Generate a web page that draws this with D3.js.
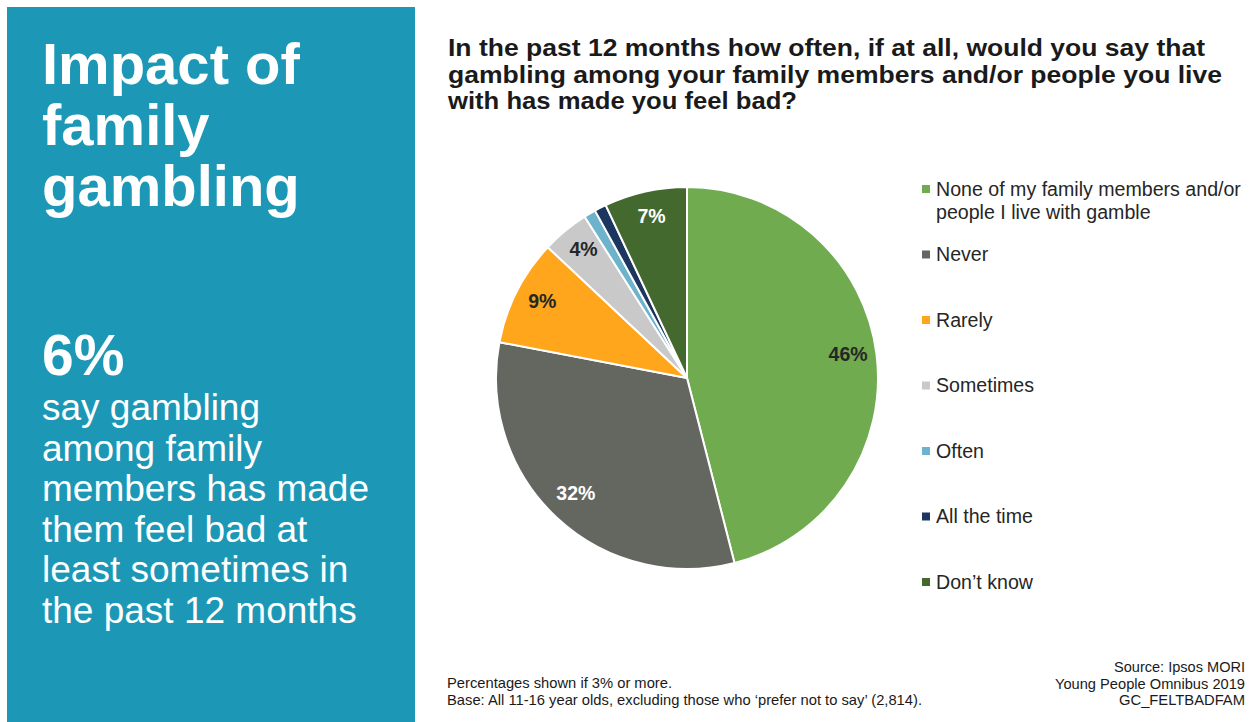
<!DOCTYPE html>
<html>
<head>
<meta charset="utf-8">
<script src="https://cdn.jsdelivr.net/npm/d3@7"></script>
<style>
  html, body { margin: 0; padding: 0; background: #fff; }
  svg { display: block; font-family: "Liberation Sans", Arial, sans-serif; }
</style>
</head>
<body>
<svg id="chart" width="1255" height="722"></svg>
<script>
const categories = [
  "None of my family members and/or people I live with gamble",
  "Never",
  "Rarely",
  "Sometimes",
  "Often",
  "All the time",
  "Don\u2019t know"
];
const legendLines = [
  ["None of my family members and/or", "people I live with gamble"],
  ["Never"], ["Rarely"], ["Sometimes"], ["Often"], ["All the time"], ["Don\u2019t know"]
];
const values = [46, 32, 9, 4, 1, 1, 7];
const colors = ["#70AB4F", "#646660", "#FFA61C", "#C9C9C9", "#6CB3CB", "#1D3660", "#44692F"];
const labelColors = ["#262626", "#ffffff", "#262626", "#262626", "#ffffff", "#ffffff", "#ffffff"];

const titleLines = [
  "In the past 12 months how often, if at all, would you say that",
  "gambling among your family members and/or people you live",
  "with has made you feel bad?"
];
const titleWidths = [757, 774, 349];
const panelTitle = ["Impact of", "family", "gambling"];
const panelStat = "6%";
const panelBody = ["say gambling", "among family", "members has made", "them feel bad at", "least sometimes in", "the past 12 months"];
const footLeft = ["Percentages shown if 3% or more.", "Base: All 11-16 year olds, excluding those who \u2018prefer not to say\u2019 (2,814)."];
const footLeftWidths = [225, 475];
const footRight = ["Source: Ipsos MORI", "Young People Omnibus 2019", "GC_FELTBADFAM"];
const footRightWidths = [131, 190, 126];

const svg = d3.select("#chart");

// Left panel
svg.append("rect").attr("x", 7).attr("y", 7).attr("width", 408).attr("height", 715).attr("fill", "#1C98B6");

svg.append("g").selectAll("text").data(panelTitle).join("text")
  .attr("x", 42).attr("y", (d, i) => 84 + i * 61)
  .attr("fill", "#fff").attr("font-size", 58).attr("font-weight", "bold")
  .text(d => d);

svg.append("text").attr("x", 42).attr("y", 375)
  .attr("fill", "#fff").attr("font-size", 57).attr("font-weight", "bold")
  .text(panelStat);

svg.append("g").selectAll("text").data(panelBody).join("text")
  .attr("x", 42).attr("y", (d, i) => 420 + i * 40.6)
  .attr("fill", "#fff").attr("font-size", 37)
  .text(d => d);

// Title
svg.append("g").selectAll("text").data(titleLines).join("text")
  .attr("x", 448).attr("y", (d, i) => 56 + i * 26.5)
  .attr("fill", "#1a1a1a").attr("font-size", 24).attr("font-weight", "bold")
  .attr("textLength", (d, i) => titleWidths[i]).attr("lengthAdjust", "spacingAndGlyphs")
  .text(d => d);

// Pie
const cx = 687, cy = 378, R = 191;
const pie = d3.pie().sort(null).value(d => d)(values);
const arc = d3.arc().innerRadius(0).outerRadius(R);
const labelArc = d3.arc().innerRadius(R * 0.85).outerRadius(R * 0.85);
const g = svg.append("g").attr("transform", `translate(${cx},${cy})`);
g.selectAll("path").data(pie).join("path")
  .attr("d", arc)
  .attr("fill", (d, i) => colors[i])
  .attr("stroke", "#fff").attr("stroke-width", 2).attr("stroke-linejoin", "round");

g.selectAll("text.lbl").data(pie.filter(d => d.value >= 3)).join("text")
  .attr("class", "lbl")
  .attr("transform", d => `translate(${labelArc.centroid(d)})`)
  .attr("text-anchor", "middle").attr("dy", "0.18em")
  .attr("font-size", 19.5).attr("font-weight", "bold")
  .attr("fill", d => labelColors[d.index])
  .text(d => d.value + "%");

// Legend
const ly = d3.scalePoint().domain(categories).range([189, 582]);
const leg = svg.append("g").selectAll("g").data(categories).join("g")
  .attr("transform", d => `translate(922,${ly(d)})`);
leg.append("rect").attr("x", 0).attr("y", -4).attr("width", 8).attr("height", 8)
  .attr("fill", (d, i) => colors[i]);
leg.append("text").attr("x", 14).attr("fill", "#262626").attr("font-size", 19.6)
  .selectAll("tspan").data((d, i) => legendLines[i]).join("tspan")
  .attr("x", 14).attr("y", (d, j) => j * 23).attr("dy", "0.35em")
  .text(d => d);

// Footers
svg.append("g").selectAll("text").data(footLeft).join("text")
  .attr("x", 447).attr("y", (d, i) => 688 + i * 16.5)
  .attr("fill", "#1a1a1a").attr("font-size", 14.5)
  .attr("textLength", (d, i) => footLeftWidths[i]).attr("lengthAdjust", "spacingAndGlyphs")
  .text(d => d);
svg.append("g").selectAll("text").data(footRight).join("text")
  .attr("x", 1245).attr("y", (d, i) => 672 + i * 16.5)
  .attr("text-anchor", "end")
  .attr("fill", "#1a1a1a").attr("font-size", 14.5)
  .attr("textLength", (d, i) => footRightWidths[i]).attr("lengthAdjust", "spacingAndGlyphs")
  .text(d => d);
</script>
</body>
</html>
